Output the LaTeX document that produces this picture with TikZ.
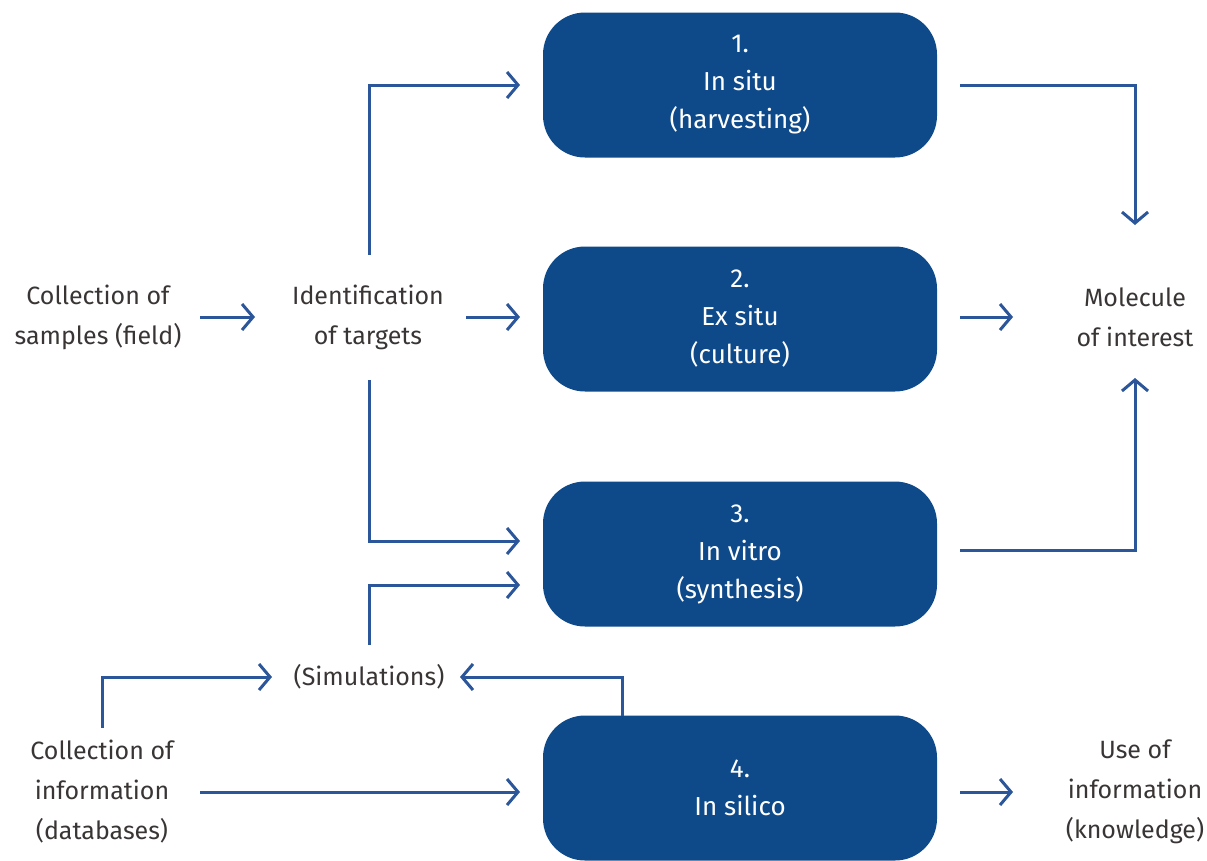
\documentclass[tikz,border=0pt]{standalone}
\usepackage{fontspec}
\setmainfont{Fira Sans}
\usetikzlibrary{arrows.meta}
\definecolor{boxblue}{HTML}{0E4A8A}
\definecolor{arrblue}{HTML}{2B5699}
\definecolor{txt}{HTML}{3A3535}
\begin{document}
\begin{tikzpicture}[x=1pt,y=-1pt,
  blk/.style={fill=boxblue,draw=none,rounded corners=42pt,minimum width=394pt,minimum height=145pt,text=white,align=center,font=\fontsize{26}{38}\selectfont,inner sep=0pt},
  lbl/.style={text=txt,align=center,font=\fontsize{25}{40}\selectfont,inner sep=0pt},
  arr/.style={draw=arrblue,line width=3pt,-{Straight Barb[length=11pt,width=26pt,line width=3pt]}}]
\useasboundingbox (0,0) rectangle (1207,860);
\node[blk] (b1) at (740,85) {1.\\In situ\\(harvesting)};
\node[blk] (b2) at (740,319) {2.\\Ex situ\\(culture)};
\node[blk] (b3) at (740,554) {3.\\In vitro\\(synthesis)};
\node[blk] (b4) at (740,788) {4.\\In silico};
\node[lbl] (cs) at (98,317) {Collection of\\samples (field)};
\node[lbl] (it) at (368,317) {Identification\\of targets};
\node[lbl] (mo) at (1135,317) {Molecule\\of interest};
\node[lbl] (si) at (369,677) {(Simulations)};
\node[lbl] (ci) at (102,792) {Collection of\\information\\(databases)};
\node[lbl] (us) at (1135,792) {Use of\\information\\(knowledge)};
% coordinates
\coordinate (a1s) at (200,317); \coordinate (a1e) at (255,317);
\coordinate (a2s) at (466,317); \coordinate (a2e) at (520,317);
\coordinate (itt) at (369,255); \coordinate (itb) at (369,380);
\coordinate (b1in) at (520,85); \coordinate (b3in) at (520,541);
\coordinate (b3in2) at (520,585);
\coordinate (b1o) at (960,85); \coordinate (moT) at (1135,225);
\coordinate (b2o) at (960,317); \coordinate (moL) at (1013,317);
\coordinate (b3o) at (960,550); \coordinate (moB) at (1135,378);
\coordinate (sit) at (369,645); \coordinate (sil) at (272,677); \coordinate (sir) at (460,677);
\coordinate (b4t) at (622,716);
\coordinate (cit) at (102,728);
\coordinate (cio) at (200,792); \coordinate (b4in) at (520,792);
\coordinate (b4o) at (960,792); \coordinate (usL) at (1013,792);
\draw[arr] (a1s) -- (a1e);
\draw[arr] (a2s) -- (a2e);
\draw[arr] (itt) |- (b1in);
\draw[arr] (itb) |- (b3in);
\draw[arr] (b1o) -| (moT);
\draw[arr] (b2o) -- (moL);
\draw[arr] (b3o) -| (moB);
\draw[arr] (sit) |- (b3in2);
\draw[arr] (b4t) |- (sir);
\draw[arr] (cit) |- (sil);
\draw[arr] (cio) -- (b4in);
\draw[arr] (b4o) -- (usL);
\end{tikzpicture}
\end{document}
